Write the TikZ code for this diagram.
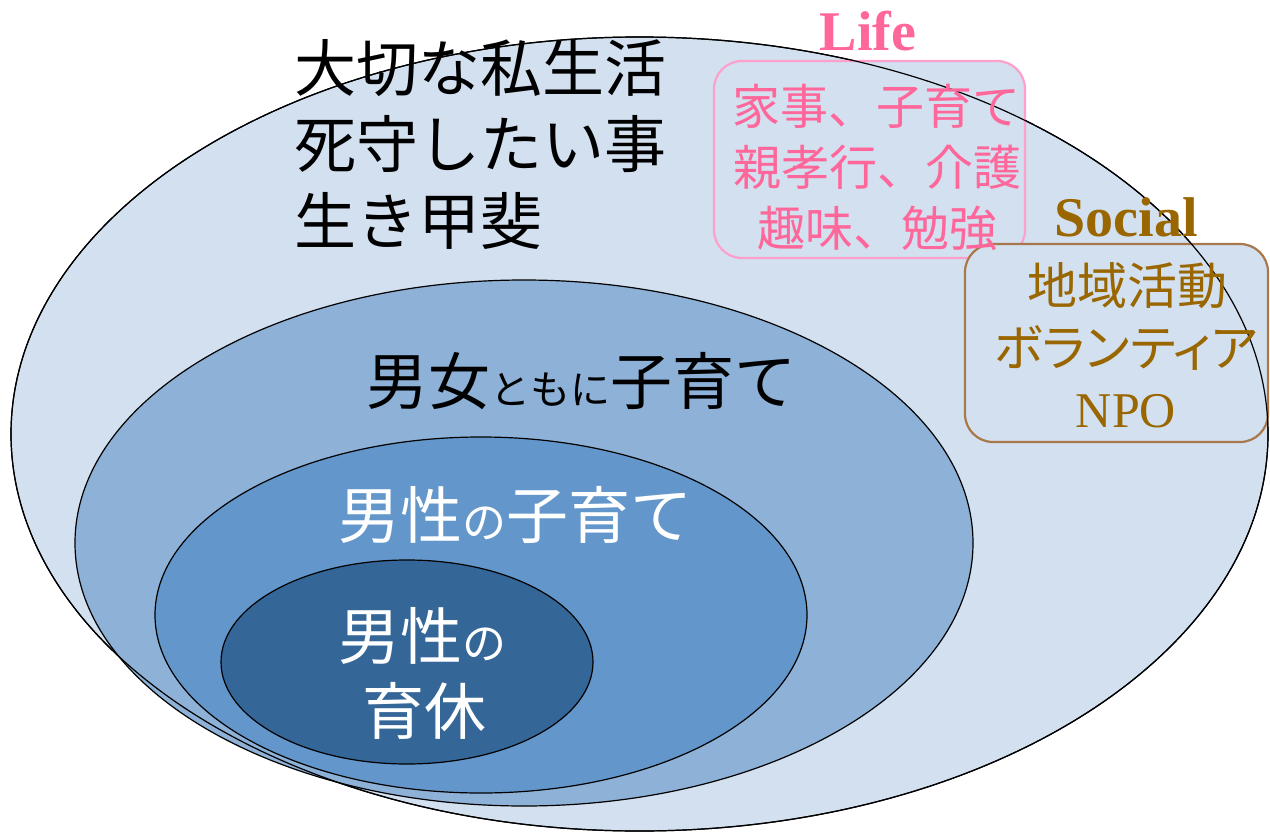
\documentclass[tikz,border=0pt]{standalone}
\usepackage{fontspec}
\newfontfamily\jp{Noto Sans CJK JP}
\newfontfamily\jpp[RawFeature=+palt]{Noto Sans CJK JP}
\newfontfamily\tms{Liberation Serif}
\usetikzlibrary{shapes.geometric}
\definecolor{cA}{HTML}{D2E0F0}
\definecolor{cB}{HTML}{8DB1D7}
\definecolor{cC}{HTML}{6396CA}
\definecolor{cD}{HTML}{346698}
\definecolor{lifepink}{HTML}{FF6699}
\definecolor{lifeframe}{HTML}{FF9FCC}
\definecolor{socbrown}{HTML}{996600}
\definecolor{socframe}{HTML}{A8784A}
\newcommand{\fs}[1]{\fontsize{#1}{#1}\selectfont}
\begin{document}
\begin{tikzpicture}[x=1pt,y=-1pt,
  ring/.style={ellipse, draw=black, line width=1.2pt, inner sep=0pt, outer sep=0pt},
  infobox/.style={rectangle, rounded corners=28pt, line width=2.2pt, fill=cA, inner sep=0pt},
  txt/.style={inner sep=0pt, outer sep=0pt}]
\useasboundingbox (0,0) rectangle (1270,835);
% nested ellipses
\node[ring, fill=cA, minimum width=1257pt, minimum height=794pt] (outer) at (639.5,434) {};
\node[ring, fill=cB, minimum width=898pt, minimum height=526pt] (both) at (524,543) {};
\node[ring, fill=cC, minimum width=652pt, minimum height=356pt] (men) at (481,615) {};
\node[ring, fill=cD, minimum width=372pt, minimum height=204pt] (leave) at (407,662) {};
% boxes
\node[infobox, draw=lifeframe, minimum width=311pt, minimum height=197pt] (lifebox) at (869.5,159.5) {};
\node[infobox, draw=socframe, minimum width=303pt, minimum height=198pt] (socbox) at (1116.5,343) {};
% outer outline seen through the boxes
\node[ring, minimum width=1257pt, minimum height=794pt] (outerline) at (639.5,434) {};
% texts of the outer ring
\node[txt, anchor=base west, font=\jp\fs{62}] (p1) at (294,91) {大切な私生活};
\node[txt, anchor=base west, font=\jp\fs{62}] (p2) at (294,167) {死守したい事};
\node[txt, anchor=base west, font=\jp\fs{62}] (p3) at (294,244) {生き甲斐};
% Life
\node[txt, anchor=base, font=\tms\bfseries\fs{56}, text=lifepink] (lifet) at (868,50) {Life};
\node[txt, anchor=base, font=\jp\fs{48}, text=lifepink] (l1) at (876,124) {家事、子育て};
\node[txt, anchor=base, font=\jp\fs{48}, text=lifepink] (l2) at (877,185) {親孝行、介護};
\node[txt, anchor=base, font=\jp\fs{48}, text=lifepink] (l3) at (877,246) {趣味、勉強};
% Social
\node[txt, anchor=base, font=\tms\bfseries\fs{56}, text=socbrown] (soct) at (1126,236) {Social};
\node[txt, anchor=base, font=\jp\fs{50}, text=socbrown] (s1) at (1127,304) {地域活動};
\node[txt, anchor=base, font=\jpp\fs{50}, text=socbrown] (s2) at (1126,366) {ボランティア};
\node[txt, anchor=base, font=\tms\fs{50}, text=socbrown] (s3) at (1126,427) {NPO};
% inner labels
\node[txt, anchor=base, text=black] (b1) at (581,404) {\jp\fs{62}男女\fs{40}ともに\fs{62}子育て};
\node[txt, anchor=base, text=white] (m1) at (515,538) {\jp\fs{62}男性\fs{44}の\fs{62}子育て};
\node[txt, anchor=base, text=white] (k1) at (422,659) {\jp\fs{62}男性\fs{44}の};
\node[txt, anchor=base, text=white] (k2) at (424,734) {\jp\fs{62}育休};
\end{tikzpicture}
\end{document}
